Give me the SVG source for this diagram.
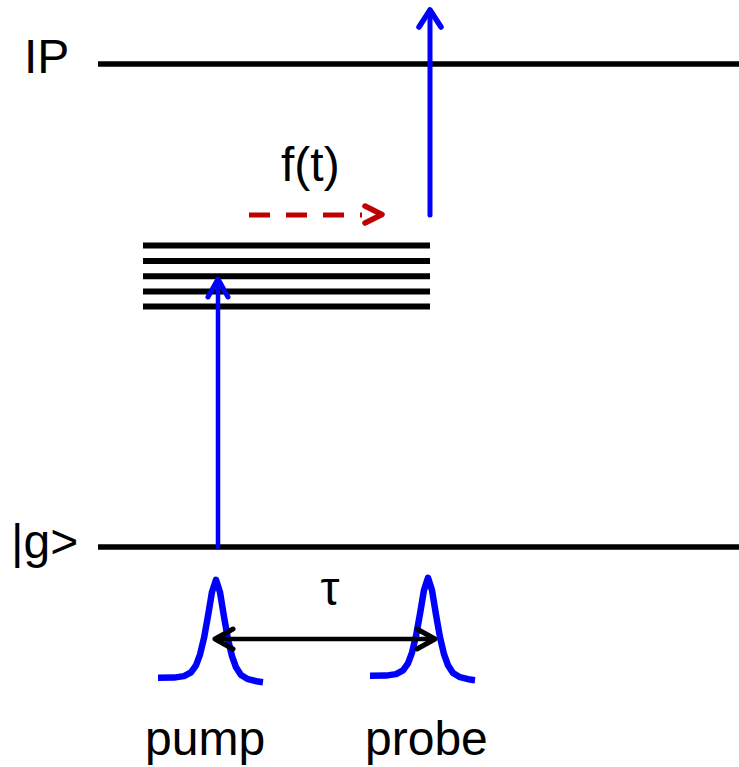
<svg xmlns="http://www.w3.org/2000/svg" width="739" height="767" viewBox="0 0 739 767">
<style>
text{font-family:"Liberation Sans",Arial,sans-serif;font-size:48px;fill:#000}
.lvl{stroke:#000;stroke-width:5.5;fill:none}
.stk{stroke:#000;stroke-width:6;fill:none}
.blue{stroke:#0000ff;fill:none;stroke-linecap:round;stroke-linejoin:round}
.pulse{stroke:#0000ff;stroke-width:6.5;fill:none;stroke-linecap:butt;stroke-linejoin:round}
.head{stroke-linecap:round;stroke-linejoin:round;fill:none}
</style>
<defs>
<polyline id="gauss" points="158,677.8 174,677.6 184,676.1 191,672.4 196,665.3 200,654.6 204,638.1 208,615.9 212,591.9 216,579.8 220,592.3 224,616.7 228,639.3 232,656.2 236,667.3 241,675 248,679.2 258,681.6 263,682.2"/>
</defs>
<g id="level-ip">
<line class="lvl" x1="98" y1="64" x2="739" y2="64"/>
<text x="24" y="73">IP</text>
</g>
<g id="level-g">
<line class="lvl" x1="98" y1="547" x2="739" y2="547"/>
<text x="11" y="558">|g&gt;</text>
</g>
<g id="excited-states">
<line class="stk" x1="143" y1="245.5" x2="430" y2="245.5"/>
<line class="stk" x1="143" y1="261" x2="430" y2="261"/>
<line class="stk" x1="143" y1="276.3" x2="430" y2="276.3"/>
<line class="stk" x1="143" y1="291.5" x2="430" y2="291.5"/>
<line class="stk" x1="143" y1="306.5" x2="430" y2="306.5"/>
</g>
<g id="pump-pulse">
<use href="#gauss" class="pulse"/>
<text x="145" y="755">pump</text>
</g>
<g id="probe-pulse">
<use href="#gauss" class="pulse" transform="translate(212,-2)"/>
<text x="365" y="755">probe</text>
</g>
<g id="connectors">
<g id="pump-arrow">
<line class="blue" x1="218" y1="547" x2="218" y2="279" stroke-width="4.5"/>
<polyline class="blue head" points="208,297 218,279 228,297" stroke-width="5"/>
</g>
<g id="probe-arrow">
<line class="blue" x1="430" y1="215" x2="430" y2="10" stroke-width="5"/>
<polyline class="blue head" points="419,27 430,10 441,27" stroke-width="5.5"/>
</g>
<g id="ft-arrow">
<line x1="249" y1="215" x2="362" y2="215" stroke="#c00000" stroke-width="5" stroke-dasharray="21 16"/>
<polyline class="head" points="365,206 382,214.5 365,223" stroke="#c00000" stroke-width="5.5"/>
<text x="281" y="181">f(t)</text>
</g>
<g id="delay-arrow">
<line x1="216" y1="639" x2="434" y2="639" stroke="#000" stroke-width="4.5"/>
<polyline class="head" points="233,629 215,639 233,649" stroke="#000" stroke-width="5"/>
<polyline class="head" points="417,629 435,639 417,649" stroke="#000" stroke-width="5"/>
<text x="330" y="605" text-anchor="middle" font-size="52">τ</text>
</g>
</g>
</svg>
